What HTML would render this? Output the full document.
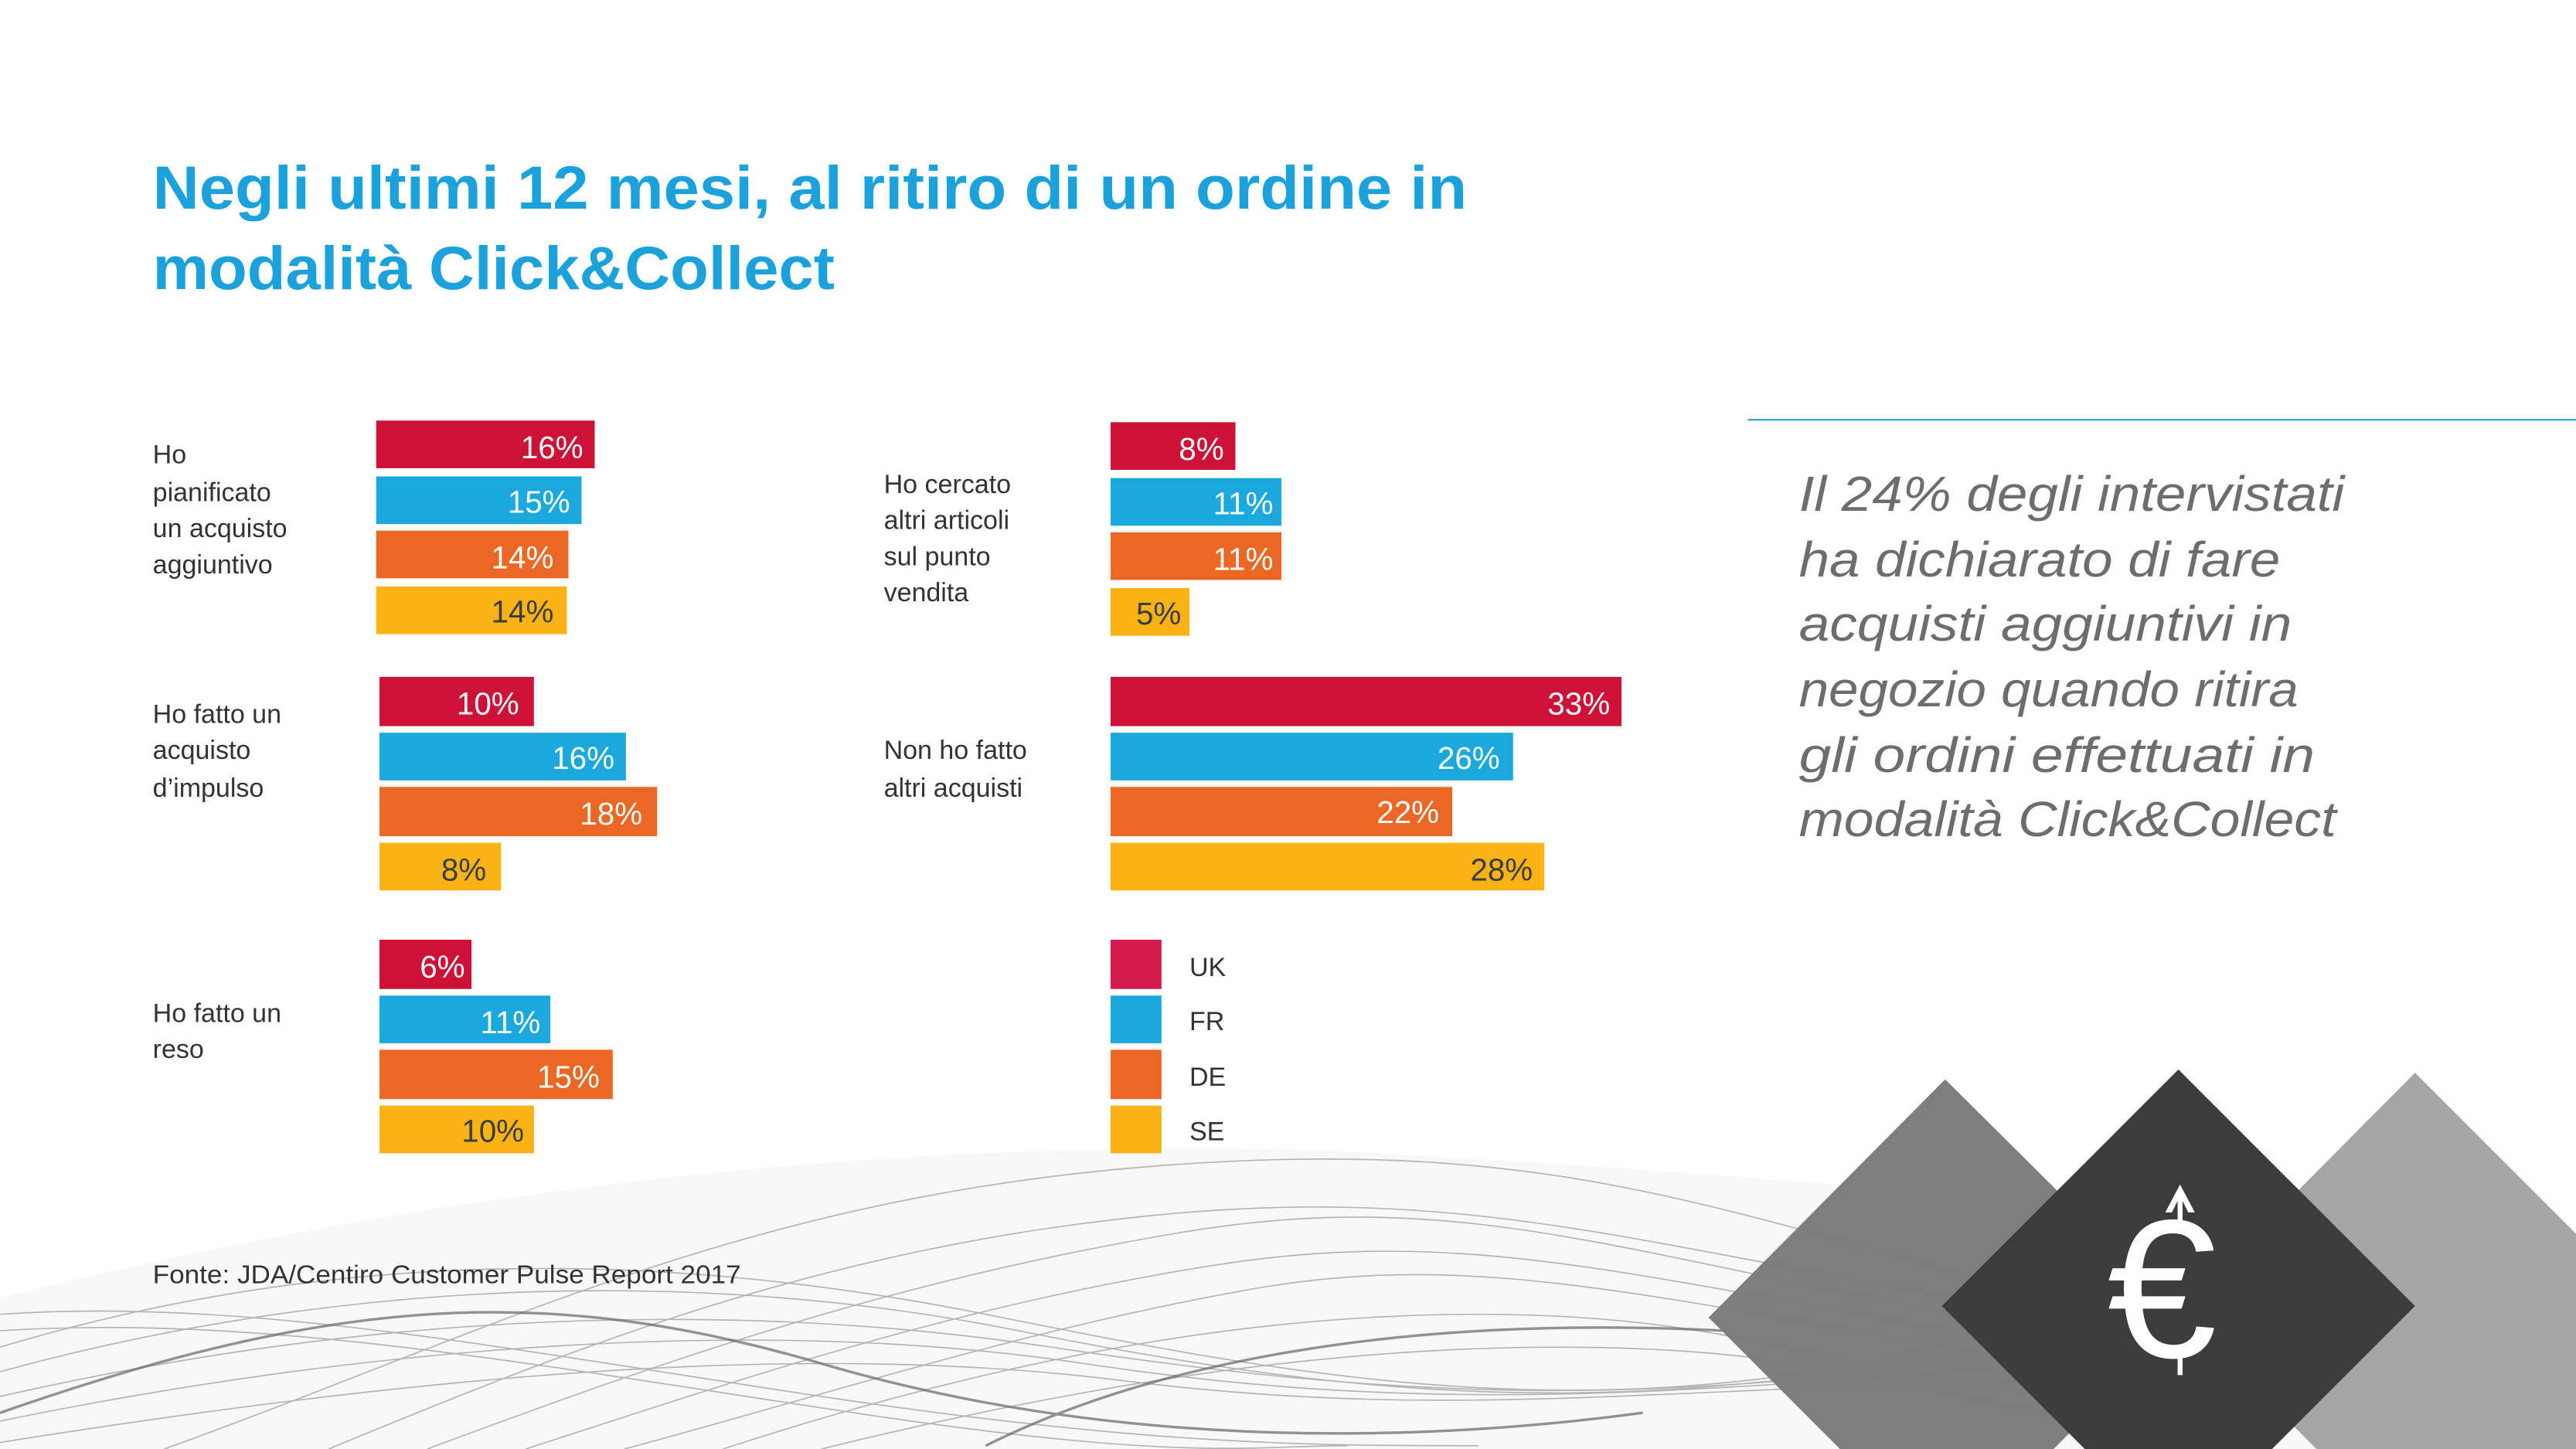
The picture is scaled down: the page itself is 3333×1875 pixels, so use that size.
<!DOCTYPE html>
<html><head><meta charset="utf-8"><style>
html,body{margin:0;padding:0;background:#fff;width:3333px;height:1875px;overflow:hidden;}
svg{display:block;overflow:hidden;}
text{font-family:"Liberation Sans",sans-serif;}
</style></head><body>
<svg width="3333" height="1875" viewBox="0 0 1568 882" preserveAspectRatio="none" xmlns="http://www.w3.org/2000/svg">
<rect width="1568" height="882" fill="#fff"/>
<path d="M0 790 Q400 690 800 700 Q1200 720 1568 770 L1568 882 L0 882Z" fill="#f8f8f8"/>
<g fill="none" stroke="#9a9a9a" stroke-width="0.8" opacity="0.7">
<path d="M0 820 C200 760 400 760 600 800 S1000 880 1250 800"/>
<path d="M0 835 C200 780 420 770 620 810 S1000 870 1250 810"/>
<path d="M0 850 C220 800 440 790 640 820 S1000 860 1250 820"/>
<path d="M0 865 C220 820 460 800 660 830 S1000 850 1250 830"/>
<path d="M0 878 C240 840 480 815 680 840 S1000 845 1250 840"/>
<path d="M200 882 C350 820 500 760 700 740 S1000 760 1250 800"/>
<path d="M260 882 C400 830 540 780 720 750 S1000 770 1250 810"/>
<path d="M320 882 C450 840 580 795 740 770 S1000 780 1250 820"/>
<path d="M380 882 C500 850 620 810 760 785 S1000 790 1250 830"/>
<path d="M100 882 C300 810 450 730 700 710 S1050 740 1250 790"/>
<path d="M440 882 C600 830 750 800 900 800 S1100 830 1250 850"/>
<path d="M500 882 C650 845 800 820 950 820 S1150 845 1250 860"/>
<path d="M0 800 C150 790 300 820 500 850 S800 880 900 880"/>
<path d="M0 810 C160 800 320 830 520 860 S760 880 820 880"/>
</g>
<g fill="none" stroke="#666" stroke-width="1.6" opacity="0.7">
<path d="M0 860 C200 790 330 780 500 830 S850 880 1000 860"/>
<path d="M600 880 C700 830 850 800 1050 810"/>
</g>
<text x="93" y="127" font-size="37" font-weight="bold" fill="#1ba1db" textLength="800" lengthAdjust="spacingAndGlyphs">Negli ultimi 12 mesi, al ritiro di un ordine in</text>
<text x="93" y="176" font-size="37" font-weight="bold" fill="#1ba1db" textLength="415" lengthAdjust="spacingAndGlyphs">modalità Click&amp;Collect</text>
<g font-size="16" fill="#333">
<text x="93" y="282">Ho</text><text x="93" y="305">pianificato</text><text x="93" y="327">un acquisto</text><text x="93" y="349">aggiuntivo</text>
<text x="93" y="440">Ho fatto un</text><text x="93" y="462">acquisto</text><text x="93" y="485">d’impulso</text>
<text x="93" y="622">Ho fatto un</text><text x="93" y="644">reso</text>
<text x="538" y="300">Ho cercato</text><text x="538" y="322">altri articoli</text><text x="538" y="344">sul punto</text><text x="538" y="366">vendita</text>
<text x="538" y="462">Non ho fatto</text><text x="538" y="485">altri acquisti</text>
<text x="724" y="594">UK</text><text x="724" y="627">FR</text><text x="724" y="661">DE</text><text x="724" y="694">SE</text>
<text x="93" y="781" font-size="15.5" textLength="358" lengthAdjust="spacingAndGlyphs">Fonte: JDA/Centiro Customer Pulse Report 2017</text>
</g>
<g>
<rect x="229" y="256" width="133" height="29" fill="#ce1237"/>
<rect x="229" y="290" width="125" height="29" fill="#1ba8df"/>
<rect x="229" y="323" width="117" height="29" fill="#ec6724"/>
<rect x="229" y="357" width="116" height="29" fill="#f9b314"/>
<rect x="231" y="412" width="94" height="30" fill="#ce1237"/>
<rect x="231" y="446" width="150" height="29" fill="#1ba8df"/>
<rect x="231" y="479" width="169" height="30" fill="#ec6724"/>
<rect x="231" y="513" width="74" height="29" fill="#f9b314"/>
<rect x="231" y="572" width="56" height="30" fill="#ce1237"/>
<rect x="231" y="606" width="104" height="29" fill="#1ba8df"/>
<rect x="231" y="639" width="142" height="30" fill="#ec6724"/>
<rect x="231" y="673" width="94" height="29" fill="#f9b314"/>
<rect x="676" y="257" width="76" height="29" fill="#ce1237"/>
<rect x="676" y="291" width="104" height="29" fill="#1ba8df"/>
<rect x="676" y="324" width="104" height="29" fill="#ec6724"/>
<rect x="676" y="358" width="48" height="29" fill="#f9b314"/>
<rect x="676" y="412" width="311" height="30" fill="#ce1237"/>
<rect x="676" y="446" width="245" height="29" fill="#1ba8df"/>
<rect x="676" y="479" width="208" height="30" fill="#ec6724"/>
<rect x="676" y="513" width="264" height="29" fill="#f9b314"/>
<rect x="676" y="572" width="31" height="30" fill="#d31a4a"/>
<rect x="676" y="606" width="31" height="29" fill="#1ba8df"/>
<rect x="676" y="639" width="31" height="30" fill="#ec6724"/>
<rect x="676" y="673" width="31" height="29" fill="#f9b314"/>
</g>
<g font-size="19" text-anchor="end" fill="#fff">
<text x="355" y="279">16%</text><text x="347" y="312">15%</text><text x="337" y="346">14%</text><text x="337" y="379" fill="#3c3c3c">14%</text>
<text x="316" y="435">10%</text><text x="374" y="468">16%</text><text x="391" y="502">18%</text><text x="296" y="536" fill="#3c3c3c">8%</text>
<text x="283" y="595">6%</text><text x="329" y="629">11%</text><text x="365" y="662">15%</text><text x="319" y="695" fill="#3c3c3c">10%</text>
<text x="745" y="280">8%</text><text x="775" y="313">11%</text><text x="775" y="347">11%</text><text x="719" y="380" fill="#3c3c3c">5%</text>
<text x="980" y="435">33%</text><text x="913" y="468">26%</text><text x="876" y="501">22%</text><text x="933" y="536" fill="#3c3c3c">28%</text>
</g>
<line x1="1064" y1="255.5" x2="1568" y2="255.5" stroke="#1ba1db" stroke-width="1"/>
<g font-size="30" font-style="italic" fill="#6d6d6d">
<text x="1095" y="311" textLength="332" lengthAdjust="spacingAndGlyphs">Il 24% degli intervistati</text>
<text x="1095" y="351" textLength="293" lengthAdjust="spacingAndGlyphs">ha dichiarato di fare</text>
<text x="1095" y="390" textLength="300" lengthAdjust="spacingAndGlyphs">acquisti aggiuntivi in</text>
<text x="1095" y="430" textLength="304" lengthAdjust="spacingAndGlyphs">negozio quando ritira</text>
<text x="1095" y="470" textLength="314" lengthAdjust="spacingAndGlyphs">gli ordini effettuati  in</text>
<text x="1095" y="509" textLength="327" lengthAdjust="spacingAndGlyphs">modalità Click&amp;Collect</text>
</g>
<polygon points="1184,657 1330,802 1250,882 1120,882 1040,802" fill="#7a7a7a" opacity="0.97"/>
<polygon points="1470,653 1568,751 1568,882 1410,882 1326,798" fill="#a5a5a5"/>
<polygon points="1326,651 1470,795 1383,882 1269,882 1182,795" fill="#3c3c3c"/>
<g fill="#fff">
<polygon points="1327,721 1318,738 1322,738 1327,728 1332,738 1336,738"/>
<rect x="1325.5" y="726" width="3" height="24"/>
<rect x="1325.5" y="819" width="3" height="18"/>
<text x="1316" y="826" font-size="120" text-anchor="middle" fill="#fff">€</text>
</g>
</svg>
</body></html>
